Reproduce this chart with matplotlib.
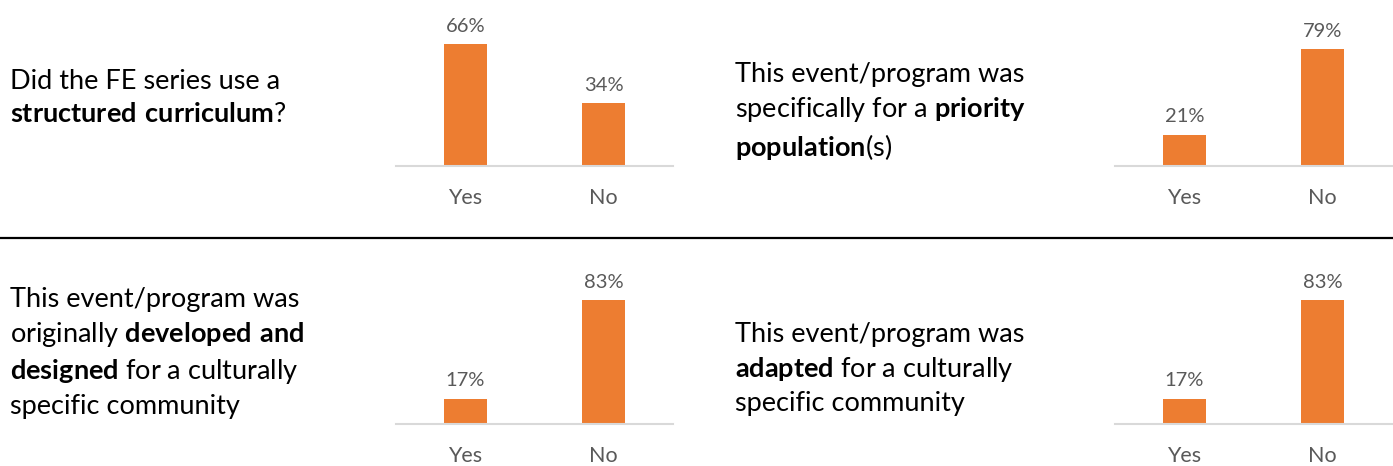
import matplotlib.pyplot as plt

plt.rcParams['font.family'] = 'Lato'
plt.rcParams['mathtext.fontset'] = 'custom'
plt.rcParams['mathtext.rm'] = 'Lato'
plt.rcParams['mathtext.bf'] = 'Lato:bold'

categories = ['Yes', 'No']
curriculum = [66, 34]
priority = [21, 79]
developed = [17, 83]
adapted = [17, 83]

questions = [
    'Did the FE series use a\n$\\mathbf{structured\\ curriculum}$?',
    'This event/program was\nspecifically for a $\\mathbf{priority}$\n$\\mathbf{population}$(s)',
    'This event/program was\noriginally $\\mathbf{developed\\ and}$\n$\\mathbf{designed}$ for a culturally\nspecific community',
    'This event/program was\n$\\mathbf{adapted}$ for a culturally\nspecific community',
]
series = [curriculum, priority, developed, adapted]

W, H = 1393, 466
fig = plt.figure(figsize=(W / 100, H / 100), dpi=100)

# panel layout in pixels: axes left, baseline y, top y, ylim max, text x, text center y
panels = [
    (396, 166, 37, 70, 10, 98),
    (1115, 166, 48, 80, 735, 112),
    (396, 424, 290, 90, 10, 353),
    (1115, 424, 290, 90, 735, 369),
]

orange = '#ED7D31'
grey = '#595959'

for (x0, yb, yt, ymax, tx, ty), vals, q in zip(panels, series, questions):
    ax = fig.add_axes([x0 / W, 1 - yb / H, 277 / W, (yb - yt) / H])
    bars = ax.bar(range(len(categories)), vals, width=0.31, color=orange)
    ax.set_xlim(-0.5, 1.5)
    ax.set_ylim(0, ymax)
    ax.set_xticks(range(len(categories)))
    ax.set_xticklabels(categories, fontsize=15.5, color=grey)
    ax.tick_params(axis='x', length=0, pad=16)
    ax.set_yticks([])
    for s in ['left', 'right', 'top']:
        ax.spines[s].set_visible(False)
    ax.spines['bottom'].set_color('#D9D9D9')
    ax.spines['bottom'].set_linewidth(1.5)
    ax.bar_label(bars, labels=[f'{v}%' for v in vals], padding=7,
                 fontsize=14.5, color=grey)
    fig.text(tx / W, 1 - ty / H, q, fontsize=19.5, color='black',
             va='center', ha='left', linespacing=1.36)

fig.add_artist(plt.Line2D([0, 1], [1 - 238 / H, 1 - 238 / H], color='black', lw=1.6))

fig.savefig('out.png', dpi=100)
